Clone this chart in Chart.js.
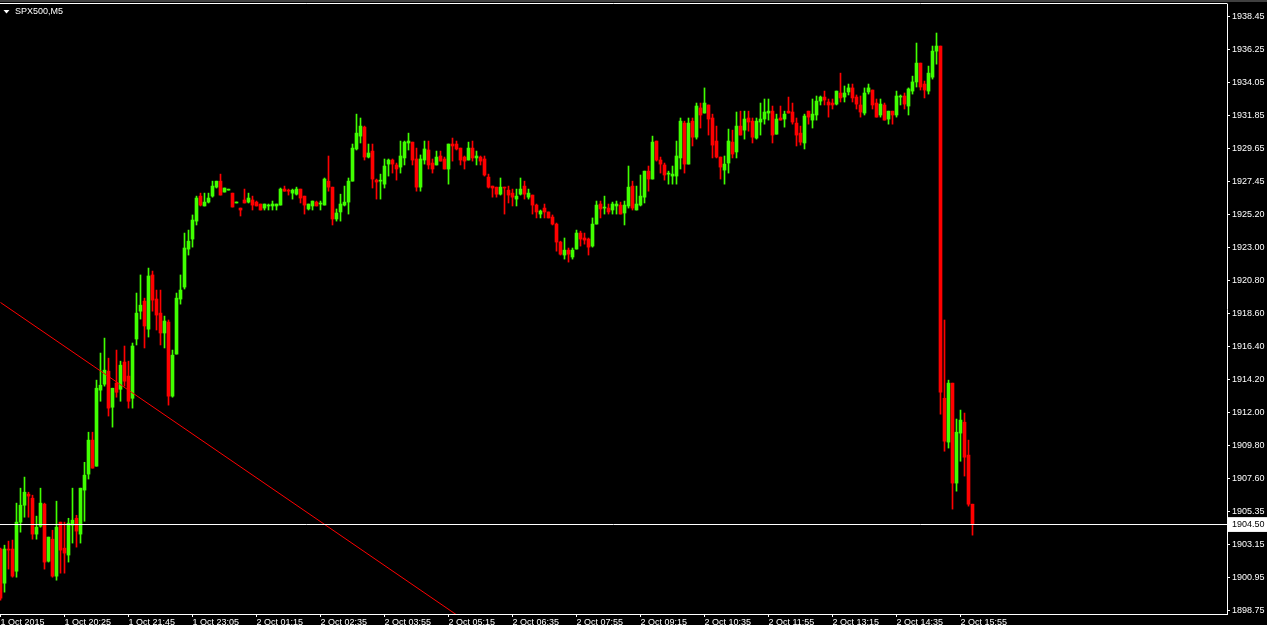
<!DOCTYPE html>
<html>
<head>
<meta charset="utf-8">
<style>
html,body{margin:0;padding:0;background:#000;overflow:hidden}
canvas{display:block}
</style>
<script src="https://cdn.jsdelivr.net/npm/chart.js@4.4.1/dist/chart.umd.min.js"></script>
</head>
<body>
<canvas id="c" width="1267" height="625"></canvas>
<script>
const symbolLabel = 'SPX500,M5';

const opens = [
1902.86,1900.58,1902.86,1902.86,1901.38,1904.66,1905.79,1906.53,1906.26,1903.86,
1904.39,1905.86,1902.05,1903.52,1901.05,1904.66,1902.92,1902.46,1904.46,1904.92,
1903.86,1906.80,1907.87,1910.14,1908.40,1913.48,1913.88,1914.75,1912.34,1913.95,
1913.54,1915.36,1914.42,1912.94,1916.90,1918.76,1919.43,1917.56,1921.18,1919.57,
1918.63,1917.30,1918.03,1913.08,1915.89,1919.57,1920.37,1922.91,1923.58,1924.78,
1926.45,1925.79,1926.05,1926.45,1927.05,1927.45,1926.72,1926.85,1926.65,1925.99,
1925.65,1926.19,1926.05,1926.19,1926.05,1925.92,1925.65,1925.79,1925.79,1925.79,
1925.85,1926.92,1926.85,1926.65,1926.58,1926.92,1926.45,1925.59,1925.79,1926.05,
1925.92,1925.85,1927.45,1927.05,1924.92,1925.39,1925.85,1926.05,1927.45,1929.60,
1930.46,1931.06,1929.06,1929.46,1927.52,1927.45,1927.25,1928.59,1928.86,1928.53,
1928.39,1929.00,1930.00,1930.06,1928.93,1927.05,1928.86,1929.53,1928.66,1928.53,
1929.13,1928.93,1928.26,1929.93,1929.93,1929.66,1929.06,1928.86,1929.66,1929.00,
1929.06,1928.93,1927.72,1927.12,1927.05,1926.58,1927.05,1926.85,1926.65,1926.25,
1926.58,1927.12,1926.38,1926.52,1925.85,1925.25,1925.65,1925.39,1925.05,1924.58,
1923.38,1922.51,1922.84,1922.38,1922.91,1923.98,1923.65,1923.58,1923.11,1924.58,
1925.92,1925.65,1925.65,1925.52,1925.79,1925.85,1925.32,1925.79,1927.12,1925.52,
1925.85,1926.38,1928.12,1927.59,1930.13,1928.86,1928.53,1927.92,1927.79,1927.79,
1929.00,1931.33,1928.59,1931.46,1930.39,1932.34,1932.00,1932.54,1931.67,1930.13,
1929.06,1928.19,1928.66,1930.06,1929.40,1931.13,1930.86,1931.67,1931.46,1930.33,
1931.40,1931.60,1932.00,1932.13,1930.59,1931.67,1931.60,1932.13,1932.07,1931.33,
1930.66,1930.00,1932.13,1931.53,1931.87,1932.80,1933.07,1932.74,1932.67,1932.60,
1933.34,1933.07,1933.41,1933.68,1933.07,1932.54,1932.00,1933.41,1933.54,1932.67,
1931.87,1932.54,1931.60,1932.13,1931.87,1933.07,1933.14,1932.47,1933.47,1934.08,
1935.34,1933.94,1933.47,1934.40,1936.14,1936.48,1912.94,1910.01,1913.95,1907.27,
1910.61,1911.34,1909.14,1905.86
];
const highs = [
1902.92,1903.12,1903.39,1903.46,1905.93,1906.93,1907.67,1906.66,1906.46,1905.06,
1906.93,1905.93,1903.66,1904.12,1906.06,1904.66,1904.66,1904.92,1906.93,1905.12,
1906.93,1908.66,1910.67,1910.67,1914.15,1915.96,1916.96,1915.62,1913.61,1916.16,
1915.42,1916.43,1915.42,1916.63,1919.97,1921.18,1919.63,1921.64,1921.44,1920.17,
1920.17,1918.43,1918.17,1916.16,1919.97,1921.18,1923.98,1924.18,1925.19,1926.45,
1926.65,1926.65,1926.65,1927.45,1927.45,1927.92,1926.99,1926.85,1926.65,1925.99,
1925.65,1926.92,1926.65,1926.45,1926.12,1925.92,1925.92,1925.92,1926.12,1925.92,
1926.99,1927.12,1926.92,1926.92,1927.05,1926.92,1926.45,1925.92,1926.12,1926.12,
1926.12,1927.66,1929.13,1927.05,1925.59,1926.58,1927.12,1927.66,1929.93,1931.93,
1931.67,1931.13,1929.93,1929.93,1927.59,1927.92,1928.93,1928.93,1928.93,1928.66,
1930.13,1930.13,1930.66,1930.06,1929.66,1929.20,1930.13,1930.13,1928.93,1929.46,
1929.46,1929.06,1929.93,1930.33,1930.13,1929.66,1929.13,1930.06,1930.13,1929.46,
1929.13,1929.13,1927.92,1927.12,1927.05,1927.66,1927.05,1927.12,1926.92,1926.92,
1927.66,1927.45,1926.92,1926.52,1925.92,1925.52,1925.92,1925.39,1925.19,1924.65,
1923.44,1923.65,1922.98,1922.98,1924.18,1924.11,1923.98,1923.65,1924.99,1926.12,
1926.12,1926.45,1925.92,1926.05,1926.12,1926.05,1926.12,1928.46,1927.45,1927.12,
1927.86,1928.12,1928.46,1930.46,1930.13,1929.06,1928.66,1928.12,1928.46,1930.13,
1931.67,1931.46,1931.67,1931.67,1932.67,1932.67,1933.68,1932.54,1931.93,1931.13,
1929.06,1929.13,1930.93,1930.86,1932.07,1932.13,1932.13,1932.13,1931.67,1931.67,
1932.67,1932.94,1932.94,1932.47,1931.93,1932.47,1932.13,1933.07,1932.67,1931.67,
1931.13,1931.93,1932.13,1932.94,1933.14,1933.14,1933.47,1932.94,1932.94,1933.47,
1934.67,1933.81,1933.94,1933.94,1933.21,1933.14,1933.68,1933.94,1933.54,1932.94,
1932.94,1932.67,1932.13,1932.13,1933.47,1933.21,1933.34,1933.68,1934.47,1936.68,
1935.34,1934.14,1935.14,1936.48,1937.35,1936.48,1918.17,1914.15,1913.95,1911.55,
1912.15,1911.95,1910.14,1905.86
];
const lows = [
1899.44,1899.98,1901.52,1900.98,1900.98,1903.99,1904.99,1904.99,1903.52,1903.52,
1904.32,1901.52,1901.99,1900.98,1900.78,1901.25,1901.25,1901.99,1903.26,1902.99,
1903.26,1904.72,1907.54,1908.27,1908.40,1912.74,1913.75,1911.75,1911.01,1913.01,
1912.74,1913.75,1912.28,1912.28,1916.50,1918.23,1916.30,1917.03,1918.76,1917.50,
1916.50,1916.30,1912.48,1913.01,1915.89,1919.23,1920.24,1922.51,1923.04,1924.52,
1925.79,1925.79,1925.99,1926.38,1926.99,1926.52,1926.72,1926.85,1925.72,1925.99,
1925.12,1925.99,1925.99,1925.52,1925.79,1925.52,1925.52,1925.52,1925.52,1925.52,
1925.85,1926.78,1926.52,1926.25,1926.52,1925.99,1925.25,1925.52,1925.52,1925.79,
1925.52,1925.85,1926.78,1924.52,1924.78,1924.78,1925.79,1925.25,1927.45,1929.53,
1930.00,1928.86,1929.00,1926.99,1926.25,1926.25,1926.99,1927.79,1927.99,1927.52,
1927.99,1928.53,1929.53,1928.53,1926.78,1926.78,1928.59,1928.26,1927.99,1928.53,
1928.79,1928.26,1927.25,1928.79,1929.53,1928.53,1928.26,1928.86,1928.79,1928.53,
1928.53,1927.79,1926.99,1926.38,1926.38,1926.52,1925.25,1925.99,1925.79,1925.79,
1926.52,1926.25,1926.25,1925.25,1924.99,1924.99,1924.99,1924.99,1924.52,1922.77,
1922.51,1922.24,1922.04,1922.24,1922.91,1923.11,1923.24,1922.51,1923.04,1924.58,
1924.99,1925.25,1925.25,1925.25,1925.25,1925.25,1924.52,1925.65,1925.52,1925.52,
1925.79,1925.99,1926.78,1927.59,1928.79,1927.99,1927.52,1927.25,1927.25,1927.25,
1928.26,1927.99,1928.59,1929.80,1930.26,1931.00,1932.00,1930.53,1929.00,1929.00,
1927.59,1927.25,1927.99,1929.00,1929.00,1930.53,1930.26,1930.79,1930.00,1930.26,
1930.53,1931.26,1931.53,1930.00,1930.59,1931.53,1931.06,1932.00,1931.26,1929.80,
1929.86,1929.60,1931.26,1931.00,1931.53,1932.54,1932.54,1931.73,1932.27,1932.54,
1932.74,1932.74,1933.21,1932.74,1932.27,1931.73,1931.87,1933.27,1932.27,1931.73,
1931.73,1931.53,1931.26,1931.26,1931.73,1932.54,1932.27,1931.87,1933.27,1933.74,
1933.54,1933.01,1933.27,1934.27,1935.27,1911.88,1909.40,1909.61,1905.53,1906.73,
1908.73,1907.74,1905.73,1903.79
];
const closes = [
1899.58,1902.86,1902.79,1901.05,1904.66,1905.79,1906.66,1906.40,1903.86,1904.32,
1905.93,1901.99,1903.66,1901.05,1904.32,1902.79,1902.59,1904.59,1904.79,1904.06,
1906.93,1907.80,1910.14,1908.27,1913.61,1913.81,1914.82,1912.28,1913.61,1913.34,
1915.15,1914.08,1912.74,1916.43,1918.63,1919.16,1917.77,1921.11,1919.50,1918.50,
1917.30,1918.10,1913.08,1915.82,1919.63,1920.17,1922.98,1923.44,1924.85,1926.32,
1925.85,1926.05,1926.32,1927.12,1927.45,1926.52,1926.99,1926.85,1925.72,1925.99,
1925.52,1925.99,1926.32,1925.85,1925.79,1925.52,1925.92,1925.85,1925.92,1925.92,
1926.92,1926.78,1926.78,1926.85,1926.92,1926.32,1925.85,1925.92,1926.12,1925.79,
1925.92,1927.59,1927.05,1924.92,1925.32,1925.92,1926.05,1927.45,1929.66,1930.66,
1931.13,1929.06,1929.33,1927.59,1927.39,1927.45,1928.46,1928.86,1928.59,1928.26,
1929.13,1930.06,1930.13,1928.86,1927.05,1928.93,1929.60,1928.53,1928.26,1929.06,
1928.79,1928.26,1929.93,1929.80,1929.60,1928.86,1928.79,1929.66,1929.00,1929.13,
1928.79,1927.86,1927.05,1926.99,1926.58,1927.05,1926.99,1926.52,1926.38,1926.45,
1926.92,1926.58,1926.65,1925.85,1925.39,1925.45,1925.39,1924.99,1924.58,1923.38,
1922.57,1922.84,1922.57,1922.84,1923.98,1923.58,1923.51,1923.04,1924.58,1925.85,
1925.59,1925.65,1925.39,1925.92,1925.92,1925.25,1925.85,1927.05,1925.65,1925.92,
1926.45,1928.12,1927.59,1930.06,1928.86,1928.59,1927.86,1927.92,1927.92,1929.13,
1931.46,1928.59,1931.33,1930.39,1932.47,1931.87,1932.67,1931.60,1929.86,1929.06,
1928.39,1928.59,1930.13,1929.26,1931.13,1930.53,1931.60,1931.40,1930.39,1931.46,
1931.60,1932.07,1932.13,1930.53,1931.60,1931.53,1931.93,1932.00,1931.40,1930.53,
1930.06,1931.80,1931.73,1931.93,1932.80,1933.07,1932.87,1932.54,1932.54,1933.47,
1933.01,1933.34,1933.68,1933.01,1932.60,1932.07,1933.34,1933.68,1932.54,1931.73,
1932.60,1931.53,1932.13,1931.87,1933.14,1933.07,1932.60,1933.61,1934.08,1935.34,
1933.74,1933.54,1934.67,1936.14,1936.48,1913.34,1910.07,1913.95,1907.27,1910.67,
1911.48,1909.00,1905.86,1904.50
];

const xTickIndex = [0,16,32,48,64,80,96,112,128,144,160,176,192,208,224,240];
const xTickLabels = ['1 Oct 2015','1 Oct 20:25','1 Oct 21:45','1 Oct 23:05','2 Oct 01:15','2 Oct 02:35',
  '2 Oct 03:55','2 Oct 05:15','2 Oct 06:35','2 Oct 07:55','2 Oct 09:15','2 Oct 10:35',
  '2 Oct 11:55','2 Oct 13:15','2 Oct 14:35','2 Oct 15:55'];
const yTickValues = [1938.45,1936.25,1934.05,1931.85,1929.65,1927.45,1925.20,1923.00,1920.80,1918.60,
  1916.40,1914.20,1912.00,1909.80,1907.60,1905.35,1903.15,1900.95,1898.75];
const bidPrice = 1904.50;
const trendIndex = [0, 120];
const trendPrice = [1919.34, 1897.37];

// ---- styling / layout ----
const X_MIN = -0.125, X_MAX = 306.625;
const Y_MIN = 1898.52, Y_MAX = 1939.29;
const UP = '#40ff00', DOWN = '#ff0000';
const FONT = {family: "'Liberation Sans', Arial, sans-serif", size: 9};

const colors = closes.map((c, i) => c >= opens[i] ? UP : DOWN);
const bodyData = opens.map((o, i) => ({x: i, y: [o, closes[i]]}));
const wickData = lows.map((l, i) => ({x: i, y: [l, highs[i]]}));

const chrome = {
  id: 'chrome',
  beforeDraw(chart) {
    const c = chart.ctx, a = chart.chartArea;
    c.save();
    c.fillStyle = '#000';
    c.fillRect(0, 0, chart.width, chart.height);
    c.fillStyle = '#404040';
    c.fillRect(0, 0, chart.width, 2);
    c.strokeStyle = '#fff';
    c.lineWidth = 1;
    c.beginPath();
    c.moveTo(0, a.top - 0.5);
    c.lineTo(a.right + 0.5, a.top - 0.5);
    c.stroke();
    c.restore();
  },
  afterDraw(chart) {
    const c = chart.ctx;
    c.save();
    c.fillStyle = '#fff';
    c.beginPath();
    c.moveTo(3.5, 10); c.lineTo(9.5, 10); c.lineTo(6.5, 13.5); c.closePath();
    c.fill();
    c.font = "9px 'Liberation Sans', Arial, sans-serif";
    c.textBaseline = 'middle';
    c.textAlign = 'left';
    c.fillText(symbolLabel, 15, 12);
    c.restore();
  }
};

new Chart(document.getElementById('c'), {
  type: 'bar',
  data: {
    datasets: [
      {type: 'line', data: [{x: X_MIN, y: bidPrice}, {x: X_MAX, y: bidPrice}],
       borderColor: '#fff', borderWidth: 1, pointRadius: 0, order: -2},
      {type: 'line', data: trendIndex.map((x, k) => ({x, y: trendPrice[k]})),
       borderColor: '#ff0000', borderWidth: 1, pointRadius: 0, order: -1},
      {data: bodyData, backgroundColor: colors, barThickness: 3, minBarLength: 1,
       grouped: false, borderWidth: 0, order: 0},
      {data: wickData, backgroundColor: colors, barThickness: 1, minBarLength: 1,
       grouped: false, borderWidth: 0, order: 1}
    ]
  },
  options: {
    responsive: false,
    animation: false,
    events: [],
    layout: {padding: {top: 4, left: 0, right: 0, bottom: 0}},
    plugins: {legend: {display: false}, tooltip: {enabled: false}},
    scales: {
      x: {
        type: 'linear', position: 'bottom', min: X_MIN, max: X_MAX, offset: false, bounds: 'data',
        afterBuildTicks: s => { s.ticks = xTickIndex.map(v => ({value: v})); },
        afterFit: s => { s.height = 11; s.paddingLeft = 0; s.paddingRight = 0; },
        ticks: {
          autoSkip: false, maxRotation: 0, minRotation: 0, align: 'start', padding: 0,
          color: '#fff', font: FONT,
          callback: v => { const k = xTickIndex.indexOf(v); return k >= 0 ? xTickLabels[k] : ''; }
        },
        grid: {offset: false, drawOnChartArea: false, drawTicks: true, tickLength: 3, tickColor: '#fff', color: '#fff'},
        border: {display: true, color: '#fff', width: 1}
      },
      y: {
        type: 'linear', position: 'right', min: Y_MIN, max: Y_MAX, bounds: 'data',
        afterBuildTicks: s => { s.ticks = yTickValues.concat([bidPrice]).map(v => ({value: v})); },
        afterFit: s => { s.width = 40; s.paddingTop = 0; s.paddingBottom = 0; },
        ticks: {
          autoSkip: false, padding: 2, font: FONT,
          color: ctx => (ctx.tick && ctx.tick.value === bidPrice) ? '#000' : '#fff',
          showLabelBackdrop: ctx => !!(ctx.tick && ctx.tick.value === bidPrice),
          backdropColor: '#fff',
          backdropPadding: {top: 2, bottom: 2, left: 4, right: 8},
          callback: v => Number(v).toFixed(2)
        },
        grid: {drawOnChartArea: false, drawTicks: true, tickLength: 3, tickColor: '#fff', color: '#fff'},
        border: {display: true, color: '#fff', width: 1}
      }
    }
  },
  plugins: [chrome]
});
</script>
</body>
</html>
